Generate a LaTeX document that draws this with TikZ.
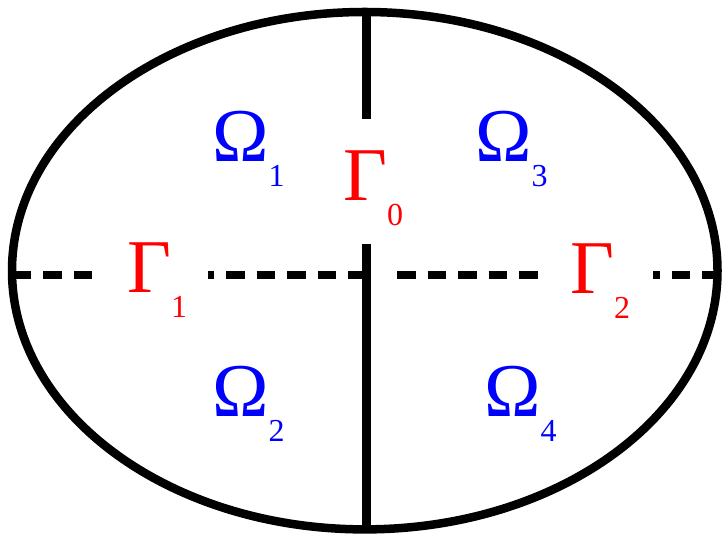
\documentclass[tikz,border=0pt]{standalone}
\usepackage{fontspec}
\setmainfont{Liberation Serif}
\usepackage{tikz}

\newcommand{\subsym}[2]{#1\raisebox{-25pt}{\fontsize{32}{32}\selectfont #2}}

\begin{document}
\begin{tikzpicture}[
  x=1pt, y=1pt,
  bdry/.style={line width=8.5pt},
  cut/.style={line width=8.5pt, dash pattern=on 18.5pt off 12pt},
  dom/.style={text=blue, inner sep=0pt, anchor=base west, font=\fontsize{76}{76}\selectfont},
  itf/.style={text=red, inner sep=0pt, anchor=base west, font=\fontsize{76}{76}\selectfont}
]
  \useasboundingbox (0,0) rectangle (725,534);

  % outer boundary
  \draw[bdry] (364.75,263.3) ellipse [x radius=352.75pt, y radius=258.7pt];

  % vertical interface
  \coordinate (top) at (366.5,522);
  \coordinate (bot) at (366.5,4.5);
  \draw[bdry] (top) -- (366.5,415);
  \draw[bdry] (366.5,290) -- (bot);

  % horizontal interface
  \draw[cut] (12.8,259) -- (92,259);
  \draw[cut, dash phase=12.2pt] (208,259) -- (366.5,259);
  \draw[cut] (397,259) -- (537.5,259);
  \draw[cut, dash phase=12pt] (653,259) -- (717,259);

  % labels
  \node[dom] (om1) at (212,372) {\subsym{Ω}{1}};
  \node[dom] (om3) at (475,372) {\subsym{Ω}{3}};
  \node[dom] (om2) at (212,117) {\subsym{Ω}{2}};
  \node[dom] (om4) at (484,117) {\subsym{Ω}{4}};
  \node[itf] (ga0) at (343,333) {\subsym{Γ}{0}};
  \node[itf] (ga1) at (127,241) {\subsym{Γ}{1}};
  \node[itf] (ga2) at (570,240) {\subsym{Γ}{2}};
\end{tikzpicture}
\end{document}
